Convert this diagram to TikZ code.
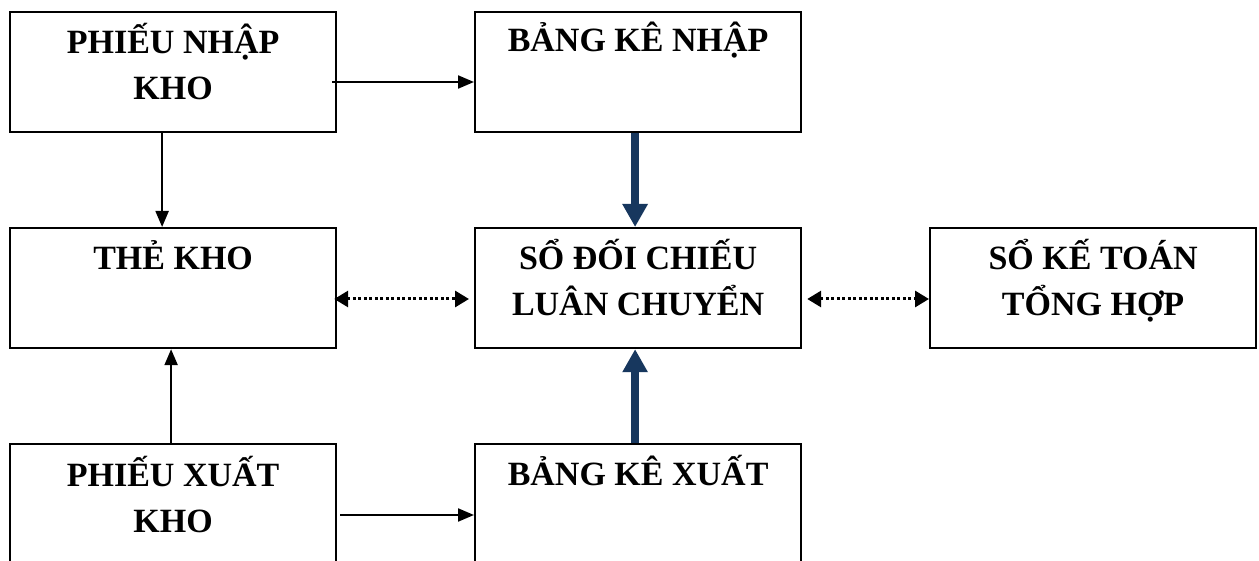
\documentclass[tikz,border=0pt]{standalone}
\usepackage{fontspec}
\setmainfont{Liberation Serif}
\usetikzlibrary{arrows.meta}
\definecolor{navy}{HTML}{17375E}
\begin{document}
\begin{tikzpicture}[x=1pt,y=-1pt,
  box/.style={draw, line width=2.2pt, minimum width=326pt, minimum height=120pt,
    inner sep=0pt, anchor=north west},
  lbl/.style={font=\bfseries\fontsize{34}{46}\selectfont, anchor=base, inner sep=0pt},
  flow/.style={line width=2.2pt, -{Triangle[length=16pt,width=13pt]}},
  feed/.style={navy, line width=7.5pt, -{Triangle[length=23pt,width=24pt]}},
  link/.style={line width=3pt, dash pattern=on 3pt off 2.5pt,
    {Triangle[length=14pt,width=16pt]}-{Triangle[length=14pt,width=16pt]}}
]
\clip (0,0) rectangle (1259,561);
\fill[white] (0,0) rectangle (1259,561);

% boxes
\node[box] (pnk) at (9,11) {};
\node[box] (bkn) at (474,11) {};
\node[box] (tk)  at (9,227) {};
\node[box] (sdc) at (474,227) {};
\node[box] (skt) at (929,227) {};
\node[box, minimum height=160pt] (pxk) at (9,443) {};
\node[box, minimum height=160pt] (bkx) at (474,443) {};

% labels (first baseline about 43pt below the top edge)
\newcommand\twolines[2]{\vtop{\halign{\hfil##\hfil\cr #1\cr #2\cr}}}
\node[lbl] (pnk-t) at ([yshift=-43pt]pnk.north) {\twolines{PHIẾU NHẬP}{KHO}};
\node[lbl] (bkn-t) at ([yshift=-41pt]bkn.north) {BẢNG KÊ NHẬP};
\node[lbl] (tk-t)  at ([yshift=-43pt]tk.north)  {THẺ KHO};
\node[lbl] (sdc-t) at ([yshift=-43pt]sdc.north) {\twolines{SỔ ĐỐI CHIẾU}{LUÂN CHUYỂN}};
\node[lbl] (skt-t) at ([yshift=-43pt]skt.north) {\twolines{SỔ KẾ TOÁN}{TỔNG HỢP}};
\node[lbl] (pxk-t) at ([yshift=-43pt]pxk.north) {\twolines{PHIẾU XUẤT}{KHO}};
\node[lbl] (bkx-t) at ([yshift=-42pt]bkx.north) {BẢNG KÊ XUẤT};

% thin black flows
\draw[flow] ([xshift=-5pt,yshift=-71pt]pnk.north east) -- ([yshift=-71pt]bkn.north west);
\draw[flow] ([xshift=-11pt]pnk.south) -- ([xshift=-11pt]tk.north);
\draw[flow] ([xshift=-2pt]pxk.north) -- ([xshift=-2pt]tk.south);
\draw[flow] ([xshift=3pt,yshift=-72pt]pxk.north east) -- ([yshift=-72pt]bkx.north west);

% thick navy flows into the reconciliation ledger
\draw[feed] ([xshift=-3pt]bkn.south) -- ([xshift=-3pt]sdc.north);
\draw[feed] ([xshift=-3pt]bkx.north) -- ([xshift=-3pt]sdc.south);

% dotted two-way comparisons
\draw[link] ([xshift=-3pt,yshift=-72pt]tk.north east) -- ([xshift=-5pt,yshift=-72pt]sdc.north west);
\draw[link] ([xshift=5pt,yshift=-72pt]sdc.north east) -- ([yshift=-72pt]skt.north west);
\end{tikzpicture}
\end{document}
